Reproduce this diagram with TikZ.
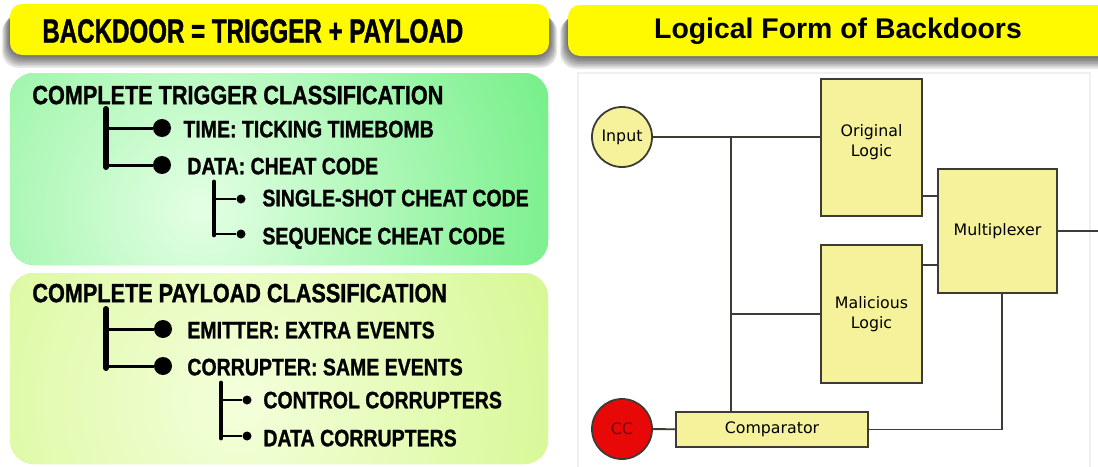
\documentclass[tikz,border=0pt]{standalone}
\usepackage{fontspec}
\setmainfont{Liberation Sans}
\newfontfamily\bannerfont[FakeStretch=0.72,FakeBold=1.2]{Liberation Sans}
\newfontfamily\condfont[FakeStretch=0.82,FakeBold=1]{Liberation Sans}
\newfontfamily\blockfont{DejaVu Sans}

\definecolor{bannerYellow}{RGB}{255,250,0}
\definecolor{trigGreen}{RGB}{92,236,116}
\definecolor{trigLight}{RGB}{228,255,228}
\definecolor{payLime}{RGB}{200,244,112}
\definecolor{payLight}{RGB}{244,255,220}
\definecolor{blockYellow}{RGB}{245,242,155}
\definecolor{wireGray}{RGB}{60,60,52}
\definecolor{ccRed}{RGB}{232,8,8}
\definecolor{ccText}{RGB}{110,10,10}

\tikzset{
  banner/.style={fill=bannerYellow, rounded corners=6pt},
  panel/.style={rounded corners=12pt},
  heading/.style={anchor=west, inner sep=0pt, text depth=0pt, font=\condfont\bfseries\fontsize{13.2}{14}\selectfont},
  item/.style={anchor=west, inner sep=0pt, text depth=0pt, font=\condfont\bfseries\fontsize{11.9}{13}\selectfont},
  trunk/.style={line width=3pt, line cap=round},
  twig/.style={line width=1.5pt},
  subtrunk/.style={line width=2.4pt, line cap=round},
  subtwig/.style={line width=1pt},
  bigdot/.style={circle, fill=black, inner sep=0pt, minimum size=9pt},
  smalldot/.style={circle, fill=black, inner sep=0pt, minimum size=4.5pt},
  block/.style={draw=wireGray, fill=blockYellow, line width=0.9pt, inner sep=0pt, align=center, font=\blockfont\fontsize{7.9}{10}\selectfont},
  port/.style={circle, draw=wireGray, line width=0.9pt, minimum size=30pt, inner sep=0pt, font=\blockfont\fontsize{7.9}{10}\selectfont},
  wire/.style={draw=wireGray, line width=0.9pt},
}

\begin{document}
\begin{tikzpicture}[x=0.5pt, y=-0.5pt]
    \clip (0,0) rectangle (1098,466);
    \fill[white] (0,0) rectangle (1098,466);

    % soft shadows under the two banners
    \foreach \s in {1,...,8} {
        \fill[black, opacity=0.09, rounded corners=8pt] (10-\s,8+\s) rectangle (549+\s,55+1.6*\s);
        \fill[black, opacity=0.09, rounded corners=8pt] (568-\s,9+\s) rectangle (1120,56+1.6*\s);
    }
    \fill[banner] (10,4) rectangle (549,55);
    \node[anchor=west, inner sep=0pt, font=\bannerfont\bfseries\fontsize{16.75}{18}\selectfont] (formula) at (42,31) {BACKDOOR = TRIGGER + PAYLOAD};
    \fill[banner] (568,5) rectangle (1120,56);
    \node[font=\bfseries\fontsize{14.2}{16}\selectfont] (logical) at (838,31) {Logical Form of Backdoors};

    % trigger panel
    \fill[panel, trigGreen] (10,73) rectangle (548,265);
    \begin{scope}
        \clip[panel] (10,73) rectangle (548,265);
        \shade[inner color=trigLight, outer color=trigGreen] (200,210) circle (460);
    \end{scope}
    \node[heading] (trig) at (32,95) {COMPLETE TRIGGER CLASSIFICATION};
    \coordinate (ttop) at (106,109);
    \coordinate (tbot) at (106,167);
    \coordinate (t1) at (106,128);
    \coordinate (t2) at (106,165);
    \draw[trunk] (ttop) -- (tbot);
    \node[bigdot] (dtime) at (162,128) {};
    \node[bigdot] (ddata) at (162,165) {};
    \draw[twig] (t1) -- (dtime);
    \draw[twig] (t2) -- (ddata);
    \node[item] (time) at (183,129) {TIME: TICKING TIMEBOMB};
    \node[item] (data) at (187,166) {DATA: CHEAT CODE};
    \coordinate (stop) at (214,182);
    \coordinate (sbot) at (214,235);
    \coordinate (s1) at (214,199);
    \coordinate (s2) at (214,234);
    \draw[subtrunk] (stop) -- (sbot);
    \node[smalldot] (dsingle) at (241,199) {};
    \node[smalldot] (dseq) at (241,234) {};
    \draw[subtwig] (s1) -- (dsingle);
    \draw[subtwig] (s2) -- (dseq);
    \node[item] (single) at (262,198) {SINGLE-SHOT CHEAT CODE};
    \node[item] (seq) at (262,236) {SEQUENCE CHEAT CODE};

    % payload panel
    \fill[panel, payLime] (10,273) rectangle (548,464);
    \begin{scope}
        \clip[panel] (10,273) rectangle (548,464);
        \shade[inner color=payLight, outer color=payLime] (240,400) circle (500);
    \end{scope}
    \node[heading] (pay) at (32,293) {COMPLETE PAYLOAD CLASSIFICATION};
    \coordinate (ptop) at (106,309);
    \coordinate (pbot) at (106,368);
    \coordinate (p1) at (106,329);
    \coordinate (p2) at (106,366);
    \draw[trunk] (ptop) -- (pbot);
    \node[bigdot] (demit) at (163,329) {};
    \node[bigdot] (dcorr) at (163,366) {};
    \draw[twig] (p1) -- (demit);
    \draw[twig] (p2) -- (dcorr);
    \node[item] (emit) at (187,330) {EMITTER: EXTRA EVENTS};
    \node[item] (corr) at (187,367) {CORRUPTER: SAME EVENTS};
    \coordinate (ctop) at (221,383);
    \coordinate (cbot) at (221,438);
    \coordinate (c1) at (221,400);
    \coordinate (c2) at (221,436);
    \draw[subtrunk] (ctop) -- (cbot);
    \node[smalldot] (dctrl) at (247,400) {};
    \node[smalldot] (ddc) at (247,436) {};
    \draw[subtwig] (c1) -- (dctrl);
    \draw[subtwig] (c2) -- (ddc);
    \node[item] (ctrl) at (263,400) {CONTROL CORRUPTERS};
    \node[item] (dcorrupt) at (263,438) {DATA CORRUPTERS};

    % logic diagram
    \draw[gray!12, line width=0.6pt] (578,470) -- (578,73) -- (1090,73) -- (1090,470);
    \node[port, fill=blockYellow] (input) at (622,137) {Input};
    \node[port, fill=ccRed, text=ccText] (cc) at (622,429) {CC};
    \node[block, text depth=7.5pt, minimum width=50.5pt, minimum height=68.5pt] (orig) at (871.5,147.5) {Original\\Logic};
    \node[block, minimum width=50.5pt, minimum height=69pt] (mal) at (871.5,314) {Malicious\\Logic};
    \node[block, minimum width=59.5pt, minimum height=62pt] (mux) at (997.5,231) {Multiplexer};
    \node[block, minimum width=96pt, minimum height=17.5pt] (comp) at (772,429.5) {Comparator};
    \coordinate (fork) at (731,137);
    \coordinate (hiIn) at (930,196);
    \coordinate (loIn) at (930,265);
    \coordinate (muxOut) at (1100,229);
    \coordinate (sel) at (1002,429);
    \draw[wire] (input) -- (input -| orig.west);
    \draw[wire] (fork) -- (fork |- comp.north);
    \draw[wire] (fork |- mal) -- (mal);
    \draw[wire] (hiIn -| orig.east) -- (hiIn -| mux.west);
    \draw[wire] (loIn -| mal.east) -- (loIn -| mux.west);
    \draw[wire] (mux) -- (mux -| muxOut);
    \draw[wire] (sel |- mux.south) -- (sel |- comp) -- (comp);
    \draw[wire] (cc) -- (comp);
\end{tikzpicture}
\end{document}
